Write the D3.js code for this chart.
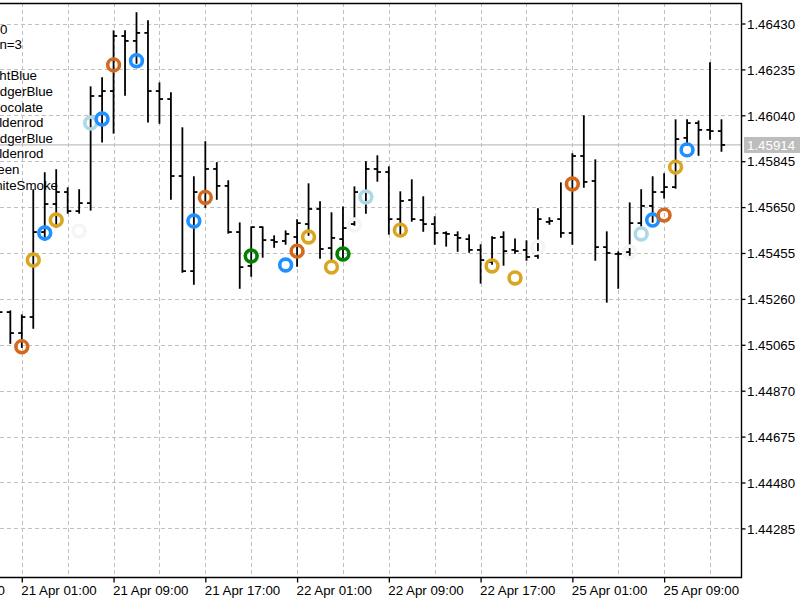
<!DOCTYPE html>
<html lang="en">
  <head>
    <meta charset="UTF-8" />
    <title>EURUSD H1 bars</title>
    <script src="https://cdn.jsdelivr.net/npm/d3@7"></script>
    <style>
      body { margin: 0; background: #fff; }
      svg { display: block; font-family: 'Liberation Sans', Arial, sans-serif; }
    </style>
  </head>
  <body>
    <script>
      // Bar times (H1, weekend skipped)
      const times = [
        '20 Apr 23:00',
        '21 Apr 00:00', '21 Apr 01:00', '21 Apr 02:00', '21 Apr 03:00', '21 Apr 04:00', '21 Apr 05:00',
        '21 Apr 06:00', '21 Apr 07:00', '21 Apr 08:00', '21 Apr 09:00', '21 Apr 10:00', '21 Apr 11:00',
        '21 Apr 12:00', '21 Apr 13:00', '21 Apr 14:00', '21 Apr 15:00', '21 Apr 16:00', '21 Apr 17:00',
        '21 Apr 18:00', '21 Apr 19:00', '21 Apr 20:00', '21 Apr 21:00', '21 Apr 22:00', '21 Apr 23:00',
        '22 Apr 00:00', '22 Apr 01:00', '22 Apr 02:00', '22 Apr 03:00', '22 Apr 04:00', '22 Apr 05:00',
        '22 Apr 06:00', '22 Apr 07:00', '22 Apr 08:00', '22 Apr 09:00', '22 Apr 10:00', '22 Apr 11:00',
        '22 Apr 12:00', '22 Apr 13:00', '22 Apr 14:00', '22 Apr 15:00', '22 Apr 16:00', '22 Apr 17:00',
        '22 Apr 18:00', '22 Apr 19:00', '22 Apr 20:00', '22 Apr 21:00', '22 Apr 22:00', '22 Apr 23:00',
        '25 Apr 00:00', '25 Apr 01:00', '25 Apr 02:00', '25 Apr 03:00', '25 Apr 04:00', '25 Apr 05:00',
        '25 Apr 06:00', '25 Apr 07:00', '25 Apr 08:00', '25 Apr 09:00', '25 Apr 10:00', '25 Apr 11:00',
        '25 Apr 12:00', '25 Apr 13:00', '25 Apr 14:00'
      ];

      const open = [
        1.45179, 1.45204, 1.45115, 1.45183, 1.45544, 1.45663, 1.45714, 1.45633,
        1.45667, 1.46122, 1.46143, 1.46377, 1.46356, 1.46390, 1.46143, 1.46109,
        1.45782, 1.45378, 1.45714, 1.45812, 1.45740, 1.45544, 1.45400, 1.45565,
        1.45510, 1.45506, 1.45523, 1.45578, 1.45642, 1.45476, 1.45514, 1.45578,
        1.45714, 1.45812, 1.45799, 1.45599, 1.45680, 1.45595, 1.45578, 1.45540,
        1.45531, 1.45514, 1.45468, 1.45417, 1.45523, 1.45468, 1.45468, 1.45442,
        1.45587, 1.45599, 1.45540, 1.45867, 1.45761, 1.45480, 1.45451, 1.45459,
        1.45582, 1.45655, 1.45714, 1.45735, 1.45944, 1.46007, 1.45978, 1.45973
      ];
      const high = [
        1.45234, 1.45208, 1.45191, 1.45723, 1.45795, 1.45808, 1.45731, 1.45723,
        1.46160, 1.46199, 1.46398, 1.46398, 1.46475, 1.46441, 1.46177, 1.46135,
        1.45986, 1.45778, 1.45927, 1.45838, 1.45761, 1.45582, 1.45565, 1.45565,
        1.45527, 1.45548, 1.45595, 1.45748, 1.45672, 1.45625, 1.45650, 1.45735,
        1.45842, 1.45867, 1.45820, 1.45714, 1.45765, 1.45693, 1.45608, 1.45544,
        1.45544, 1.45531, 1.45489, 1.45523, 1.45544, 1.45514, 1.45506, 1.45642,
        1.45604, 1.45752, 1.45876, 1.46037, 1.45850, 1.45544, 1.45459, 1.45667,
        1.45723, 1.45778, 1.45791, 1.46020, 1.46020, 1.46015, 1.46262, 1.46020
      ];
      const low = [
        1.45149, 1.45072, 1.45055, 1.45136, 1.45510, 1.45565, 1.45625, 1.45625,
        1.45638, 1.45927, 1.45965, 1.46126, 1.46262, 1.46012, 1.46007, 1.45684,
        1.45374, 1.45323, 1.45650, 1.45684, 1.45540, 1.45306, 1.45357, 1.45438,
        1.45480, 1.45493, 1.45400, 1.45531, 1.45434, 1.45417, 1.45434, 1.45574,
        1.45625, 1.45761, 1.45536, 1.45527, 1.45591, 1.45548, 1.45493, 1.45485,
        1.45463, 1.45459, 1.45328, 1.45408, 1.45404, 1.45455, 1.45425, 1.45434,
        1.45578, 1.45523, 1.45493, 1.45735, 1.45425, 1.45247, 1.45306, 1.45446,
        1.45570, 1.45587, 1.45689, 1.45731, 1.45914, 1.45871, 1.45939, 1.45888
      ];
      const close = [
        1.45204, 1.45115, 1.45183, 1.45544, 1.45663, 1.45714, 1.45633, 1.45667,
        1.46122, 1.46143, 1.46377, 1.46356, 1.46390, 1.46143, 1.46109, 1.45782,
        1.45378, 1.45714, 1.45812, 1.45740, 1.45544, 1.45395, 1.45565, 1.45510,
        1.45502, 1.45536, 1.45582, 1.45642, 1.45472, 1.45519, 1.45561, 1.45714,
        1.45812, 1.45799, 1.45599, 1.45676, 1.45599, 1.45578, 1.45540, 1.45536,
        1.45519, 1.45468, 1.45425, 1.45519, 1.45463, 1.45463, 1.45438, 1.45599,
        1.45591, 1.45540, 1.45867, 1.45757, 1.45480, 1.45455, 1.45451, 1.45582,
        1.45655, 1.45714, 1.45735, 1.45939, 1.46007, 1.45978, 1.45973, 1.45914
      ];

      // Ring markers
      const markerTimes = [
        '21 Apr 01:00', '21 Apr 02:00', '21 Apr 03:00', '21 Apr 04:00', '21 Apr 06:00',
        '21 Apr 07:00', '21 Apr 08:00', '21 Apr 09:00', '21 Apr 11:00', '21 Apr 16:00',
        '21 Apr 17:00', '21 Apr 21:00', '22 Apr 00:00', '22 Apr 01:00', '22 Apr 02:00',
        '22 Apr 04:00', '22 Apr 05:00', '22 Apr 06:00', '22 Apr 07:00', '22 Apr 10:00',
        '22 Apr 18:00', '22 Apr 20:00', '22 Apr 22:00', '25 Apr 01:00', '25 Apr 06:00',
        '25 Apr 07:00', '25 Apr 08:00', '25 Apr 09:00', '25 Apr 10:00', '25 Apr 11:00'
      ];
      const markerPrices = [
        1.45057, 1.45425, 1.45540, 1.45595, 1.45548,
        1.46007, 1.46024, 1.46254, 1.46272, 1.45591,
        1.45691, 1.45442, 1.45404, 1.45463, 1.45523,
        1.45395, 1.45451, 1.45574, 1.45693, 1.45552,
        1.45400, 1.45349, 1.45480, 1.45748, 1.45459,
        1.45536, 1.45595, 1.45616, 1.45820, 1.45893
      ];
      const markerColors = [
        'chocolate', 'goldenrod', 'dodgerblue', 'goldenrod', 'whitesmoke',
        'lightblue', 'dodgerblue', 'chocolate', 'dodgerblue', 'dodgerblue',
        'chocolate', 'green', 'dodgerblue', 'chocolate', 'goldenrod',
        'goldenrod', 'green', 'whitesmoke', 'lightblue', 'goldenrod',
        'goldenrod', 'goldenrod', 'whitesmoke', 'chocolate', 'whitesmoke',
        'lightblue', 'dodgerblue', 'chocolate', 'goldenrod', 'dodgerblue'
      ];

      // Axis ticks
      const priceTicks = [
        1.4643, 1.46235, 1.4604, 1.45845, 1.4565, 1.45455,
        1.4526, 1.45065, 1.4487, 1.44675, 1.4448, 1.44285
      ];
      const tickLabels = [
        '20 Apr 17:00', '21 Apr 01:00', '21 Apr 09:00', '21 Apr 17:00', '22 Apr 01:00',
        '22 Apr 09:00', '22 Apr 17:00', '25 Apr 01:00', '25 Apr 09:00'
      ];
      const tickIndex = [-6, 2, 10, 18, 26, 34, 42, 50, 58];

      // Chart comment (top-left, clipped by the window edge)
      const commentLines = [
        'Depth=20', 'Deviation=3', '', 'LightBlue', 'DodgerBlue', 'Chocolate',
        'Goldenrod', 'DodgerBlue', 'Goldenrod', 'Green', 'WhiteSmoke'
      ];

      // Layout
      const width = 800;
      const height = 600;
      const plot = { left: 0, right: 741, top: 3, bottom: 577 };
      const barStep = 11.47;
      const firstLabelX = 21.8;
      const commentRight = [7.5, 22, 0, 37, 53, 43, 43.5, 53, 43.5, 19.5, 58];
      const fontSize = 13.3;

      const svg = d3.select('body').append('svg')
        .attr('width', width).attr('height', height);

      svg.append('clipPath').attr('id', 'clip')
        .append('rect')
        .attr('x', plot.left).attr('y', plot.top)
        .attr('width', plot.right - plot.left).attr('height', plot.bottom - plot.top);

      const x = d3.scaleLinear()
        .domain([2, times.length - 1])
        .range([firstLabelX, firstLabelX + (times.length - 3) * barStep]);

      const y = d3.scaleLinear()
        .domain([priceTicks[0], priceTicks[priceTicks.length - 1]])
        .range([23.5, 528.4]);

      // grid
      const grid = svg.append('g')
        .attr('clip-path', 'url(#clip)')
        .attr('stroke', '#c0c0c0')
        .attr('stroke-width', 1)
        .attr('stroke-dasharray', '4,3');

      grid.selectAll('.gh').data(priceTicks).join('line')
        .attr('class', 'gh')
        .attr('x1', plot.left).attr('x2', plot.right)
        .attr('y1', (d) => Math.round(y(d)) + 0.5)
        .attr('y2', (d) => Math.round(y(d)) + 0.5);

      grid.selectAll('.gv').data(d3.range(-2, times.length, 4)).join('line')
        .attr('class', 'gv')
        .attr('x1', (d) => Math.round(x(d)) + 0.5).attr('x2', (d) => Math.round(x(d)) + 0.5)
        .attr('y1', plot.top).attr('y2', plot.bottom);

      // last price line
      const lastPrice = close[close.length - 1];
      svg.append('line')
        .attr('x1', plot.left).attr('x2', plot.right)
        .attr('y1', y(lastPrice)).attr('y2', y(lastPrice))
        .attr('stroke', '#c0c0c0').attr('stroke-width', 1.3);

      // OHLC bars
      const barsG = svg.append('g')
        .attr('clip-path', 'url(#clip)')
        .attr('stroke', '#000')
        .attr('stroke-width', 1.8);

      const bar = barsG.selectAll('g').data(times).join('g');
      bar.append('line')
        .attr('x1', (d, i) => x(i)).attr('x2', (d, i) => x(i))
        .attr('y1', (d, i) => y(high[i]) - 0.7)
        .attr('y2', (d, i) => y(low[i]) + 0.7);
      bar.append('line')
        .attr('x1', (d, i) => x(i) - 3.6).attr('x2', (d, i) => x(i))
        .attr('y1', (d, i) => y(open[i])).attr('y2', (d, i) => y(open[i]));
      bar.append('line')
        .attr('x1', (d, i) => x(i)).attr('x2', (d, i) => x(i) + 3.6)
        .attr('y1', (d, i) => y(close[i])).attr('y2', (d, i) => y(close[i]));

      // ring markers
      svg.append('g')
        .attr('clip-path', 'url(#clip)')
        .selectAll('circle')
        .data(markerTimes)
        .join('circle')
        .attr('cx', (d) => x(times.indexOf(d)))
        .attr('cy', (d, i) => y(markerPrices[i]))
        .attr('r', 5.9)
        .attr('fill', 'none')
        .attr('stroke', (d, i) => markerColors[i])
        .attr('stroke-width', 3.6);

      // comment text
      svg.append('g')
        .attr('font-size', fontSize)
        .attr('fill', '#000')
        .attr('text-anchor', 'end')
        .selectAll('text')
        .data(commentLines)
        .join('text')
        .attr('x', (d, i) => commentRight[i])
        .attr('y', (d, i) => 33.5 + i * 15.6)
        .text((d) => d);

      // frame
      svg.append('path')
        .attr('d', `M${plot.left},${plot.top + 0.5}H${plot.right + 0.5}V${plot.bottom + 0.5}H${plot.left}`)
        .attr('fill', 'none')
        .attr('stroke', '#000')
        .attr('stroke-width', 1.4);

      // price axis
      const yAxis = svg.append('g')
        .attr('transform', `translate(${plot.right + 0.5},0)`)
        .call(d3.axisRight(y).tickValues(priceTicks).tickFormat(d3.format('.5f')).tickSize(4).tickPadding(1.5));
      yAxis.select('.domain').remove();
      yAxis.attr('font-family', null).attr('font-size', fontSize);
      yAxis.selectAll('line').attr('stroke-width', 1.3);
      yAxis.selectAll('text').attr('dy', '0.36em');

      // last price label
      const ly = y(lastPrice);
      svg.append('rect')
        .attr('x', plot.right + 3).attr('y', ly - 8)
        .attr('width', 56).attr('height', 16)
        .attr('fill', '#bdbdbd');
      svg.append('text')
        .attr('x', plot.right + 6).attr('y', ly)
        .attr('dy', '0.36em')
        .attr('font-size', fontSize)
        .attr('fill', '#fff')
        .text(d3.format('.5f')(lastPrice));

      // time axis
      const xAxis = svg.append('g')
        .attr('transform', `translate(0,${plot.bottom + 0.5})`)
        .call(d3.axisBottom(x).tickValues(tickIndex).tickFormat((d, i) => tickLabels[i]).tickSize(5).tickPadding(3));
      xAxis.select('.domain').remove();
      xAxis.attr('font-family', null).attr('font-size', fontSize);
      xAxis.selectAll('line').attr('stroke-width', 1.3);
      xAxis.selectAll('text').attr('text-anchor', 'start').attr('dx', -1);
    </script>
  </body>
</html>
